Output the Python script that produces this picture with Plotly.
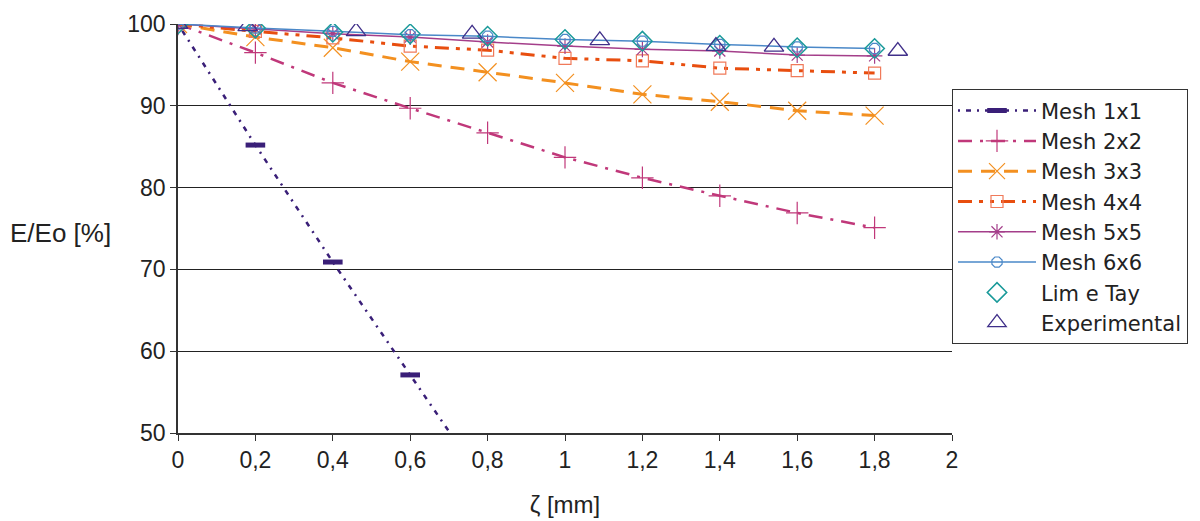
import plotly.graph_objects as go

x_mesh = [0, 0.2, 0.4, 0.6, 0.8, 1.0, 1.2, 1.4, 1.6, 1.8]
x_mesh1 = [0, 0.2, 0.4, 0.6, 0.8]
mesh1 = [100, 85.2, 70.9, 57.1, 43.3]
mesh2 = [100, 96.5, 92.8, 89.7, 86.7, 83.7, 81.2, 79.0, 76.9, 75.1]
mesh3 = [100, 98.4, 97.1, 95.4, 94.1, 92.8, 91.4, 90.5, 89.4, 88.8]
mesh4 = [100, 99.1, 98.3, 97.3, 96.8, 95.8, 95.5, 94.6, 94.3, 94.0]
mesh5 = [100, 99.4, 98.8, 98.4, 97.8, 97.3, 96.9, 96.7, 96.2, 96.1]
mesh6 = [100, 99.5, 99.1, 98.7, 98.5, 98.1, 97.9, 97.5, 97.2, 97.0]
x_lim = [0, 0.2, 0.4, 0.6, 0.8, 1.0, 1.2, 1.4, 1.6, 1.8]
lim_tay = [100, 99.5, 99.0, 98.8, 98.5, 98.1, 97.9, 97.4, 97.1, 97.0]
x_exp = [0, 0.18, 0.46, 0.76, 1.09, 1.39, 1.54, 1.86]
exp_vals = [100, 99.7, 99.1, 98.8, 98.0, 97.3, 97.2, 96.7]

x_ticks = [0, 0.2, 0.4, 0.6, 0.8, 1.0, 1.2, 1.4, 1.6, 1.8, 2.0]
x_labels = ["0", "0,2", "0,4", "0,6", "0,8", "1", "1,2", "1,4", "1,6", "1,8", "2"]

fig = go.Figure()

fig.add_trace(go.Scatter(x=x_mesh1, y=mesh1, name="Mesh 1x1", mode="lines+markers",
    line=dict(color="#3a1f78", width=2.5, dash="2px,6px,5px,6px"),
    marker=dict(symbol="line-ew", size=14, line=dict(color="#3a1f78", width=5))))
fig.add_trace(go.Scatter(x=x_mesh, y=mesh2, name="Mesh 2x2", mode="lines+markers",
    line=dict(color="#c0387a", width=2.5, dash="14px,8px,3px,8px"),
    marker=dict(symbol="cross-thin", size=16, line=dict(color="#c0387a", width=1.2))))
fig.add_trace(go.Scatter(x=x_mesh, y=mesh3, name="Mesh 3x3", mode="lines+markers",
    line=dict(color="#f39020", width=3, dash="14px,9px"),
    marker=dict(symbol="x-thin", size=18, line=dict(color="#f39020", width=1.2))))
fig.add_trace(go.Scatter(x=x_mesh, y=mesh4, name="Mesh 4x4", mode="lines+markers",
    line=dict(color="#e84e0f", width=3, dash="14px,7px,4px,7px,4px,7px"),
    marker=dict(symbol="square-open", size=12, color="#f07a5a", line=dict(width=1.2))))
fig.add_trace(go.Scatter(x=x_mesh, y=mesh5, name="Mesh 5x5", mode="lines+markers",
    line=dict(color="#a43e8a", width=1.5),
    marker=dict(symbol="asterisk-open", size=13, line=dict(color="#a43e8a", width=1.2))))
fig.add_trace(go.Scatter(x=x_mesh, y=mesh6, name="Mesh 6x6", mode="lines+markers",
    line=dict(color="#4a88c8", width=1.5),
    marker=dict(symbol="octagon-open", size=11, color="#4a88c8", line=dict(width=1.2))))
fig.add_trace(go.Scatter(x=x_lim, y=lim_tay, name="Lim e Tay", mode="markers",
    marker=dict(symbol="diamond-open", size=15, color="#1a9a9a", line=dict(width=1.5))))
fig.add_trace(go.Scatter(x=x_exp, y=exp_vals, name="Experimental", mode="markers",
    marker=dict(symbol="triangle-up-open", size=17, color="#40308a", line=dict(width=1.3))))

fig.update_layout(
    width=1192, height=513,
    margin=dict(l=170, r=248, t=16, b=88, autoexpand=False),
    paper_bgcolor="white", plot_bgcolor="white",
    font=dict(family="Liberation Sans, Arial, sans-serif", size=22, color="#222"),
    showlegend=True,
    legend=dict(x=1.0, xanchor="left", y=0.84, yanchor="top",
                bordercolor="#333", borderwidth=1,
                font=dict(size=21, family="DejaVu Sans, Liberation Sans, sans-serif"),
                itemwidth=78, tracegroupgap=0, bgcolor="white"),
    xaxis=dict(range=[0, 2], tickvals=x_ticks, ticktext=x_labels, showgrid=False,
               showline=True, linecolor="#333", linewidth=1.5, ticks="outside",
               ticklen=6, tickcolor="#333", zeroline=False, automargin=False,
               tickfont=dict(size=23),
               title=dict(text="ζ [mm]", standoff=24, font=dict(size=24))),
    yaxis=dict(range=[50, 100], dtick=10, showgrid=True, gridcolor="#222", gridwidth=1,
               showline=True, linecolor="#333", linewidth=1.5, ticks="outside",
               ticklen=6, tickcolor="#333", zeroline=False, automargin=False,
               tickfont=dict(size=23)),
    annotations=[dict(text="E/Eo [%]", xref="paper", yref="paper", x=-0.152, y=0.49,
                      xanchor="center", yanchor="middle", showarrow=False,
                      font=dict(size=26))],
)

fig.write_html("out.html")
